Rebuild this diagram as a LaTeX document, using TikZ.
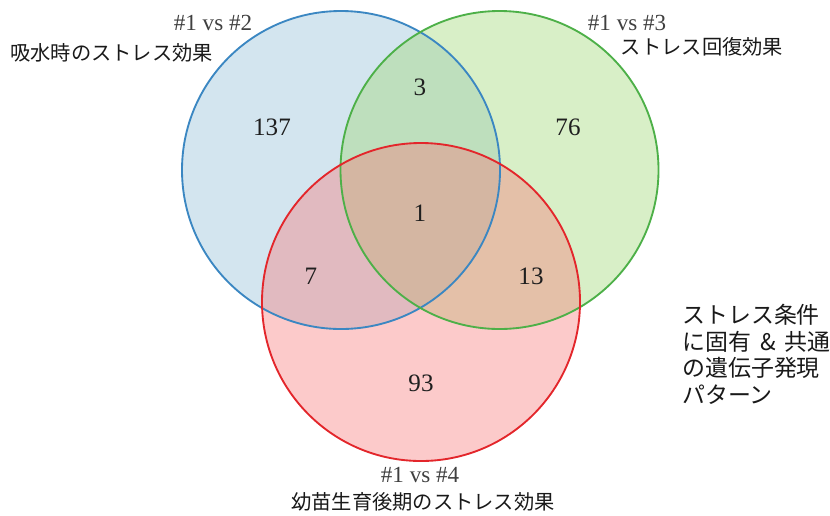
\documentclass[tikz,border=0pt]{standalone}
\usepackage{fontspec}
\setmainfont{Liberation Serif}
\newfontfamily\jpfont{Noto Sans CJK JP}
\definecolor{bluefill}{RGB}{145,190,215}
\definecolor{greenfill}{RGB}{158,215,115}
\definecolor{redfill}{RGB}{247,122,122}
\definecolor{blueline}{RGB}{59,135,194}
\definecolor{greenline}{RGB}{77,176,72}
\definecolor{redline}{RGB}{227,38,43}
\definecolor{labelgray}{RGB}{64,64,64}
\tikzset{
  setfill/.style={fill opacity=0.4},
  setline/.style={line width=1.4pt},
  num/.style={font=\fontsize{18.8}{22}\selectfont, text=black!88},
  setlabel/.style={font=\fontsize{17.3}{20}\selectfont, text=labelgray, inner sep=0pt},
  jplabel/.style={font=\jpfont\fontsize{15.2}{18}\selectfont, text=black!90, inner sep=0pt},
  jpblock/.style={font=\jpfont\fontsize{17.2}{19.9}\selectfont, text=black!90, inner sep=0pt, align=left, anchor=north west}
}
\begin{document}
\begin{tikzpicture}[x=0.75pt,y=-0.75pt]
\useasboundingbox (0,0) rectangle (830,515);
% fills
\fill[bluefill, setfill] (341,170) circle[radius=119.25pt];
\fill[greenfill, setfill] (499.5,170) circle[radius=119.25pt];
\fill[redfill, setfill] (421,302) circle[radius=119.25pt];
% outlines
\draw[blueline, setline] (341,170) circle[radius=119.25pt];
\draw[greenline, setline] (499.5,170) circle[radius=119.25pt];
\draw[redline, setline] (421,302) circle[radius=119.25pt];
% numbers
\node[num] (n137) at (272,127) {137};
\node[num] (n3) at (420,87) {3};
\node[num] (n76) at (568,127) {76};
\node[num] (n1) at (420,213) {1};
\node[num] (n7) at (311,276) {7};
\node[num] (n13) at (531,276) {13};
\node[num] (n93) at (421,383) {93};
% set labels
\node[setlabel] (l2) at (213,23) {\#1 vs \#2};
\node[jplabel, anchor=west] (j2) at (10,53) {吸水時のストレス効果};
\node[setlabel] (l3) at (627,23) {\#1 vs \#3};
\node[jplabel] (j3) at (702,47) {ストレス回復効果};
\node[setlabel] (l4) at (420,475) {\#1 vs \#4};
\node[jplabel] (j4) at (423,502) {幼苗生育後期のストレス効果};
% right block
\node[jpblock] (blk) at (682,304) {ストレス条件\\に固有\hspace{0.4em}\&\hspace{0.4em}共通\\の遺伝子発現\\パターン};
\end{tikzpicture}
\end{document}
